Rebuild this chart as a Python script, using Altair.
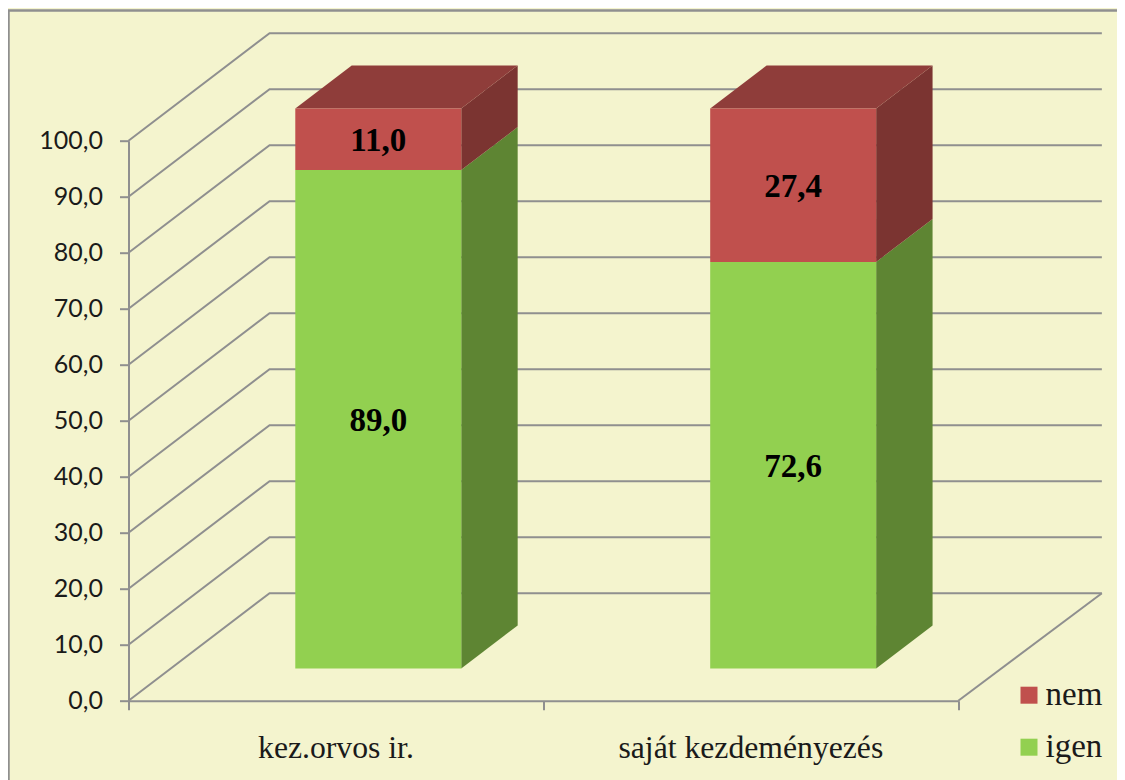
import altair as alt
import pandas as pd

categories = ["kez.orvos ir.", "saját kezdeményezés"]
igen = [89.0, 72.6]
nem = [11.0, 27.4]
ticks = list(range(0, 101, 10))

# oblique projection of the 3-D box: shift per unit of depth, in axis units
DX, DY = 0.34, 19.2
BACK_END = 2.346
D0, D1 = 0.3, 0.7
HALF = 0.2

FONT_SERIF = "Liberation Serif"
GRID = "#8f8f8f"
BG = "#f4f4ce"
FRONT = {"igen": "#92d050", "nem": "#c0504d"}
SIDE = {"igen": "#5e8533", "nem": "#7b3431"}
TOP = "#8f3d3a"

W, H = 829.8, 560.0
PAD = dict(left=120.5, top=132.7, right=158.7, bottom=79.3)

grid_rows = []
for v in ticks:
    for s, (x, y) in enumerate([(0, v), (DX, v + DY), (BACK_END, v + DY)]):
        grid_rows.append(dict(level=v, step=s, x=x, y=y))
for s, (x, y) in enumerate([(2, 0), (BACK_END, DY)]):
    grid_rows.append(dict(level=-1, step=s, x=x, y=y))

front_rows, side_rows, top_rows, label_rows = [], [], [], []
for i, cat in enumerate(categories):
    cx = i + 0.5 + DX * D0
    xl, xr = cx - HALF, cx + HALF
    base = 0.0
    for name, val in (("igen", igen[i]), ("nem", nem[i])):
        y0, y1 = base, base + val
        front_rows.append(dict(series=name, x=xl, x2=xr, y=y0 + DY * D0, y2=y1 + DY * D0))
        label_rows.append(dict(x=cx, y=(y0 + y1) / 2 + DY * D0, t=f"{val:.1f}".replace(".", ",")))
        for d in (D0, D1):
            side_rows.append(dict(key=f"{i}{name}", col=SIDE[name],
                                  x=xr + DX * (d - D0), y=y0 + DY * d, y2=y1 + DY * d))
        base = y1
    for d in (D0, D1):
        top_rows.append(dict(key=str(i), col=TOP, y=base + DY * d,
                             x=xl + DX * (d - D0), x2=xr + DX * (d - D0)))

xs = alt.Scale(domain=[0, 2], nice=False, zero=False)
ys = alt.Scale(domain=[0, 100], nice=False, zero=False)
X = alt.X("x:Q", scale=xs, title=None,
          axis=alt.Axis(values=[0, 1, 2], labels=False, grid=False, tickSize=9, tickWidth=2,
                        tickColor=GRID, domainColor=GRID, domainWidth=2))
Y = alt.Y("y:Q", scale=ys, title=None,
          axis=alt.Axis(values=ticks, grid=False, tickSize=9, tickWidth=2, tickColor=GRID,
                        domainColor=GRID, domainWidth=2, labelPadding=17,
                        labelFont="Lato", labelFontSize=25, labelColor="#1a1a1a",
                        labelExpr="replace(format(datum.value,'.1f'),'.',',')"))

grid = alt.Chart(pd.DataFrame(grid_rows)).mark_line(color=GRID, strokeWidth=2).encode(
    x=X, y=Y, detail="level:N", order="step:Q")

front = alt.Chart(pd.DataFrame(front_rows)).mark_rect().encode(
    x=alt.X("x:Q", scale=xs), x2="x2:Q",
    y=alt.Y("y:Q", scale=ys), y2="y2:Q",
    color=alt.Color("series:N",
                    scale=alt.Scale(domain=["nem", "igen"], range=[FRONT["nem"], FRONT["igen"]]),
                    legend=alt.Legend(title=None, orient="none", legendX=881, legendY=538,
                                      symbolType="square", symbolSize=289, symbolStrokeWidth=0,
                                      symbolOffset=3,
                                      labelFont=FONT_SERIF, labelFontSize=33, labelColor="#1a1a1a",
                                      rowPadding=18, labelOffset=0)))

side = alt.Chart(pd.DataFrame(side_rows)).mark_area(interpolate="linear", opacity=1).encode(
    x=alt.X("x:Q", scale=xs), y=alt.Y("y:Q", scale=ys), y2="y2:Q",
    detail="key:N", fill=alt.Fill("col:N", scale=None))

top = alt.Chart(pd.DataFrame(top_rows)).mark_area(orient="horizontal", opacity=1).encode(
    y=alt.Y("y:Q", scale=ys), x=alt.X("x:Q", scale=xs), x2="x2:Q",
    detail="key:N", fill=alt.Fill("col:N", scale=None))

labels = alt.Chart(pd.DataFrame(label_rows)).mark_text(
    font=FONT_SERIF, fontWeight="bold", fontSize=33, color="black", dy=2).encode(
    x=alt.X("x:Q", scale=xs), y=alt.Y("y:Q", scale=ys), text="t:N")

cat_labels = alt.Chart(pd.DataFrame({"x": [0.5, 1.5], "t": categories})).mark_text(
    font=FONT_SERIF, fontSize=31.7, color="#1a1a1a").encode(
    x=alt.X("x:Q", scale=xs), y=alt.value(H + 47), text="t:N")

frame_top = alt.Chart(pd.DataFrame({"a": [0]})).mark_rule(color=GRID, strokeWidth=2.5).encode(
    x=alt.value(-PAD["left"]), x2=alt.value(W + PAD["right"]), y=alt.value(-PAD["top"] + 2.6))
frame_left = alt.Chart(pd.DataFrame({"a": [0]})).mark_rule(color=GRID, strokeWidth=2.5).encode(
    x=alt.value(-PAD["left"] + 0.5), y=alt.value(-PAD["top"] + 2), y2=alt.value(H + PAD["bottom"]))

chart = (alt.layer(grid, side, top, front, labels, cat_labels, frame_top, frame_left)
         .properties(width=W, height=H, background=BG, padding=PAD, autosize=alt.AutoSizeParams(type="none"))
         .configure_view(stroke=None))

chart.save("out.html", embed_options={"renderer": "svg", "actions": False})
